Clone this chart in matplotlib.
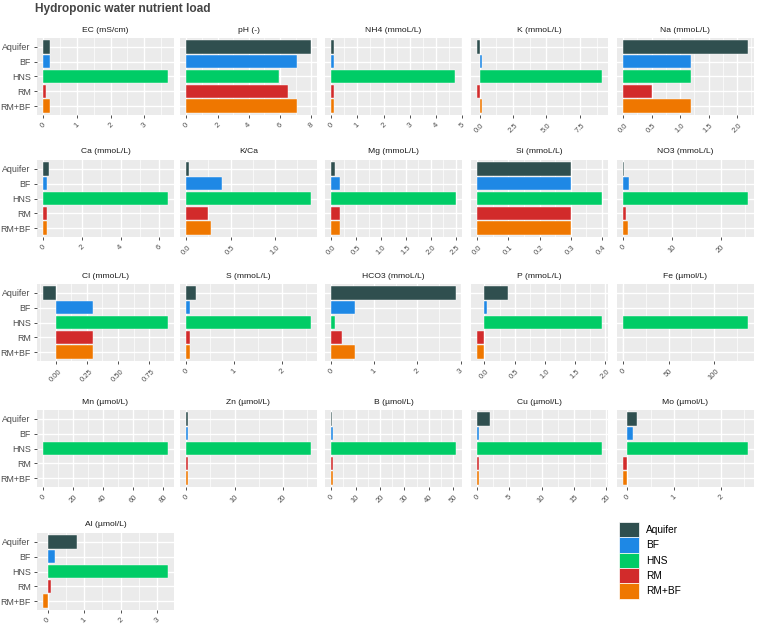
import matplotlib
matplotlib.use('Agg')
import matplotlib.pyplot as plt
from matplotlib.patches import Patch
import numpy as np

plt.rcParams['font.family'] = ['Liberation Sans', 'DejaVu Sans']

# ---------------- data ----------------
sources = ['Aquifer', 'BF', 'HNS', 'RM', 'RM+BF']
colors = ['#2F4F4F', '#1E88E5', '#00CC66', '#D22B2B', '#EF7700']

panel_titles = ['EC (mS/cm)', 'pH (-)', 'NH4 (mmoL/L)', 'K (mmoL/L)', 'Na (mmoL/L)',
                'Ca (mmoL/L)', 'K/Ca', 'Mg (mmoL/L)', 'Si (mmoL/L)', 'NO3 (mmoL/L)',
                'Cl (mmoL/L)', 'S (mmoL/L)', 'HCO3 (mmoL/L)', 'P (mmoL/L)', 'Fe (µmol/L)',
                'Mn (µmol/L)', 'Zn (µmol/L)', 'B (µmol/L)', 'Cu (µmol/L)', 'Mo (µmol/L)',
                'Al (µmol/L)']

# values in order Aquifer, BF, HNS, RM, RM+BF
ec   = [0.21, 0.21, 3.70, 0.09, 0.21]
ph   = [7.96, 7.09, 5.90, 6.48, 7.09]
nh4  = [0.10, 0.10, 4.75, 0.10, 0.10]
k    = [-0.17, 0.15, 9.13, -0.17, 0.15]
na   = [2.19, 1.20, 1.20, 0.50, 1.20]
ca   = [0.30, 0.20, 6.44, 0.20, 0.20]
k_ca = [0.03, 0.40, 1.40, 0.24, 0.28]
mg   = [0.08, 0.18, 2.50, 0.18, 0.18]
si   = [0.30, 0.30, 0.40, 0.30, 0.30]
no3  = [0.10, 1.20, 25.6, 0.50, 0.90]
cl   = [-0.10, 0.30, 0.90, 0.30, 0.30]
s    = [0.20, 0.08, 2.59, 0.08, 0.08]
hco3 = [2.89, 0.56, 0.09, 0.24, 0.55]
p    = [0.39, 0.04, 1.94, -0.12, -0.12]
fe   = [0.0, 0.0, 137.0, 0.0, 0.0]
mn   = [0.0, 0.0, 83.0, 0.0, 0.0]
zn   = [0.35, 0.4, 25.8, 0.35, 0.4]
b    = [0.3, 0.8, 51.0, 0.6, 0.7]
cu   = [2.0, 0.35, 19.3, 0.25, 0.35]
mo   = [0.20, 0.11, 2.57, -0.09, -0.09]
al   = [0.80, 0.20, 3.29, 0.10, -0.12]

panel_values = [ec, ph, nh4, k, na, ca, k_ca, mg, si, no3,
                cl, s, hco3, p, fe, mn, zn, b, cu, mo, al]

panel_ticks = [
    [0, 1, 2, 3], [0, 2, 4, 6, 8], [0, 1, 2, 3, 4, 5], [0.0, 2.5, 5.0, 7.5], [0.0, 0.5, 1.0, 1.5, 2.0],
    [0, 2, 4, 6], [0.0, 0.5, 1.0], [0.0, 0.5, 1.0, 1.5, 2.0, 2.5], [0.0, 0.1, 0.2, 0.3, 0.4], [0, 10, 20],
    [0.00, 0.25, 0.50, 0.75], [0, 1, 2], [0, 1, 2, 3], [0.0, 0.5, 1.0, 1.5, 2.0], [0, 50, 100],
    [0, 20, 40, 60, 80], [0, 10, 20], [0, 10, 20, 30, 40, 50], [0, 5, 10, 15, 20], [0, 1, 2],
    [0, 1, 2, 3],
]
panel_ticklabels = [
    ['0', '1', '2', '3'], ['0', '2', '4', '6', '8'], ['0', '1', '2', '3', '4', '5'],
    ['0.0', '2.5', '5.0', '7.5'], ['0.0', '0.5', '1.0', '1.5', '2.0'],
    ['0', '2', '4', '6'], ['0.0', '0.5', '1.0'], ['0.0', '0.5', '1.0', '1.5', '2.0', '2.5'],
    ['0.0', '0.1', '0.2', '0.3', '0.4'], ['0', '10', '20'],
    ['0.00', '0.25', '0.50', '0.75'], ['0', '1', '2'], ['0', '1', '2', '3'],
    ['0.0', '0.5', '1.0', '1.5', '2.0'], ['0', '50', '100'],
    ['0', '20', '40', '60', '80'], ['0', '10', '20'], ['0', '10', '20', '30', '40', '50'],
    ['0', '5', '10', '15', '20'], ['0', '1', '2'], ['0', '1', '2', '3'],
]

# ---------------- layout ----------------
W, H = 758, 628
fig = plt.figure(figsize=(W / 100, H / 100), dpi=100)
fig.patch.set_facecolor('white')

col_left = [37, 180, 325, 471, 617]
panel_w = 137
row_top = [38, 160, 284, 410, 533]
panel_h = 77

ypos = np.arange(len(sources))
text_col = '#4D4D4D'

for i, (title, vals, ticks, tlabels) in enumerate(zip(panel_titles, panel_values,
                                                       panel_ticks, panel_ticklabels)):
    r, c = divmod(i, 5)
    l = col_left[c]
    t = row_top[r]
    ax = fig.add_axes([l / W, 1 - (t + panel_h) / H, panel_w / W, panel_h / H])
    ax.set_facecolor('#EBEBEB')
    for sp in ax.spines.values():
        sp.set_visible(False)

    lo = min(0, min(vals))
    hi = max(0, max(vals))
    pad = 0.05 * (hi - lo)
    xlo, xhi = lo - pad, hi + pad
    ax.set_xlim(xlo, xhi)
    ax.set_ylim(len(sources) - 0.4, -0.6)

    # grid
    step = ticks[1] - ticks[0]
    minors = [ticks[0] - step / 2] + [tk + step / 2 for tk in ticks]
    for m in minors:
        if xlo <= m <= xhi:
            ax.axvline(m, color='white', lw=0.5, zorder=0.5)
    for tk in ticks:
        ax.axvline(tk, color='white', lw=1.0, zorder=0.6)
    for yy in ypos:
        ax.axhline(yy, color='white', lw=1.0, zorder=0.6)

    ax.barh(ypos, vals, height=0.9, color=colors, edgecolor='white', linewidth=0.3, zorder=2)

    ax.set_xticks(ticks)
    ax.set_xticklabels(tlabels, rotation=45, ha='center', va='top', fontsize=5.5, color=text_col)
    ax.tick_params(axis='x', length=2.5, width=0.6, color='#333333', pad=2.5)
    ax.set_yticks(ypos)
    if c == 0:
        ax.set_yticklabels(sources, fontsize=6.4, color=text_col)
        ax.tick_params(axis='y', length=2.5, width=0.6, color='#333333', pad=2)
    else:
        ax.set_yticklabels([])
        ax.tick_params(axis='y', length=0)

    fig.text((l + panel_w / 2) / W, 1 - (t - 8) / H, title, ha='center', va='center',
             fontsize=6.1, color='#1A1A1A')

fig.text(35 / W, 1 - 9 / H, 'Hydroponic water nutrient load', ha='left', va='center',
         fontsize=8.6, fontweight='bold', color='#444444')

handles = [Patch(facecolor=cl_, edgecolor='white', linewidth=0.5) for cl_ in colors]
fig.legend(handles, sources, loc='upper left', bbox_to_anchor=(619 / W, 1 - 522 / H),
           frameon=False, fontsize=7.3, handlelength=2.0, handleheight=1.95,
           labelspacing=0.0, borderpad=0, borderaxespad=0, handletextpad=0.7)

fig.savefig('out.png', dpi=100, facecolor='white')
